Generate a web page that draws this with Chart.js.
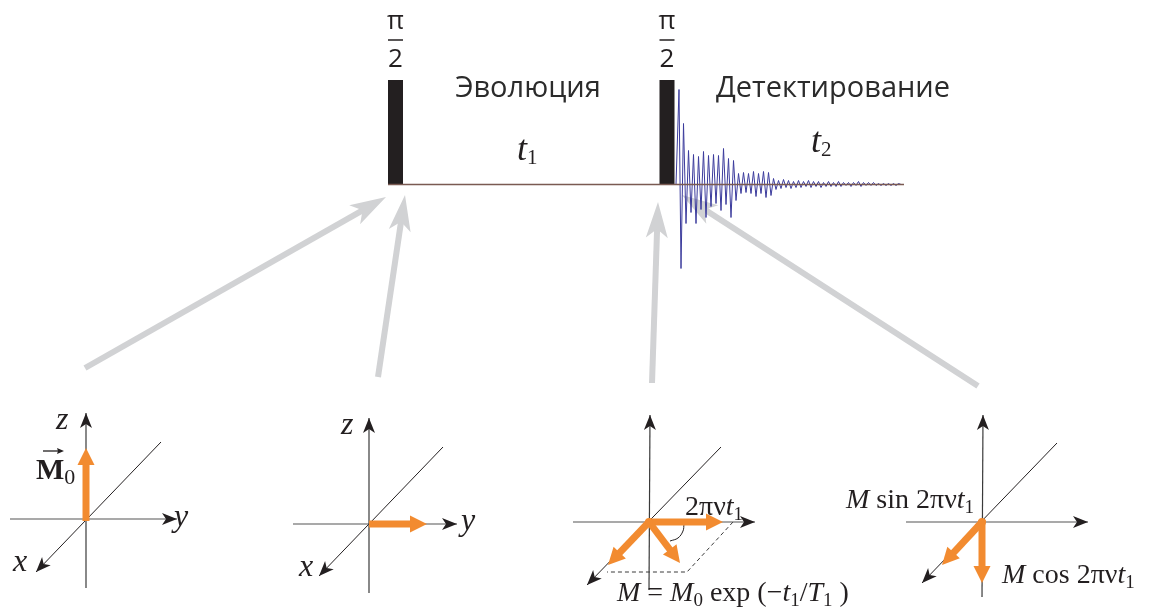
<!DOCTYPE html>
<html>
<head>
<meta charset="utf-8">
<script src="https://cdn.jsdelivr.net/npm/chart.js@4/dist/chart.umd.min.js"></script>
<style>
  html, body { margin: 0; padding: 0; background: #fff; }
  #wrap { width: 1152px; height: 610px; position: relative; }
</style>
</head>
<body>
<div id="wrap"><canvas id="c"></canvas></div>
<script>
// ---- pulse sequence: two π/2 pulses, evolution t1, FID recorded during t2 ----
const baselineY = 184.5;
const baselineSpan = [388, 904];
const pulseX = [395.5, 667];
const pulseTop = 80;
const pulseBottom = 185;

// FID extremes (time position, signal above the baseline)
const fidTime = [
  676, 679, 681, 683.5, 686, 688.5, 691, 693.5, 696, 698.5,
  701, 703.5, 706, 708.5, 711, 713.5, 716, 718.5, 721, 723.5,
  726, 728.5, 731, 733.5, 736, 738.5, 741, 743.5, 746, 748.5,
  751, 753.5, 756, 758.5, 761, 763.5, 766, 768.5, 771, 773.5,
  776, 778.5, 781, 783.5, 786, 788.5, 791, 793.5, 796, 798.5,
  801, 803.5, 806, 808.5, 811, 813.5, 816, 818.5, 821, 823.5,
  826, 828.5, 831, 833.5, 836, 838.5, 841, 843.5, 846, 848.5,
  851, 853.5, 856, 858.5, 861, 863.5, 866, 868.5, 871, 873.5,
  876, 878.5, 881, 883.5, 886, 888.5, 891, 893.5, 896, 898.5,
  901, 904
];
const fidSignal = [
  0, 95, -84, 61, -39, 34, -28, 30, -39, 28,
  -25, 33, -33, 29, -22, 30, -19, 29, -26, 36,
  -20, 26, -33, 24, -16, 11, -9, 12, -8, 11,
  -9, 13, -12, 11, -9, 13, -13, 12, -11, 6,
  -5, 4, -4, 5, -3, 4, -4, 3, -3, 4,
  -3, 3, -2, 4, -3, 3, -2, 3, -3, 2,
  -2, 3, -2, 2, -2, 3, -2, 2, -1, 2,
  -2, 2, -1, 3, -2, 2, -1, 2, -1, 2,
  -1, 1, -1, 1, -1, 1, -1, 1, -1, 1,
  0, 0
];

// grey pointers from each vector frame up to its moment in the sequence
const pointerFrom = [[85, 368], [378, 377], [652, 383], [978, 386]];
const pointerTo   = [[386, 197], [405, 195], [658, 202], [682, 195]];

// the four coordinate frames
const frameOrigin = [[86, 519], [369, 524], [649, 522], [982, 522]];
const zTip    = [[86, 413], [369, 418], [650, 415], [983, 415]];
const zEnd    = [[86, 588], [369, 593], [649, 590], [982, 597]];
const yStart  = [[10, 519], [293, 524], [573, 522], [906, 522]];
const yTip    = [[177, 519], [457, 524], [755, 522], [1088, 522]];
const diagEnd = [[161, 442], [443, 447], [721, 447], [1057, 443]];
const xTip    = [[36, 572], [319, 576], [587, 585], [922, 583]];

// magnetisation vectors
const vecFrom = [[86, 521], [369, 524], [649, 522], [649, 522], [649, 522], [982, 520], [982, 522]];
const vecTo   = [[86, 448], [427, 524], [723, 522], [608, 565], [680, 563], [982, 583], [942, 565]];
const jointDots = [[649, 522], [982, 522]];

// projection lines and angle mark in the third frame
const projDash  = [[733, 522], [687, 572], [607, 572]];
const angleMark = [[684, 524], [683, 531], [678, 538], [670, 541]];

// small arrow over the bold M
const overArrow = [[43, 451], [64, 451]];

// text labels: parts as [text, style], anchor at the baseline
const labelParts = [
  [['Эволюция', 'sans']],
  [['Детектирование', 'sans']],
  [['t', 'itBig'], ['1', 'subBig']],
  [['t', 'itBig'], ['2', 'subBig']],
  [['z', 'ax']], [['y', 'ax']], [['x', 'ax']],
  [['M', 'bf'], ['0', 'subM']],
  [['z', 'ax']], [['y', 'ax']], [['x', 'ax']],
  [['2πν', 'rm'], ['t', 'it'], ['1', 'sub']],
  [['M', 'it'], [' = ', 'rm'], ['M', 'it'], ['0', 'sub'], [' exp (', 'rm'], ['−', 'rm'],
   ['t', 'it'], ['1', 'sub'], ['/', 'rm'], ['T', 'it'], ['1', 'sub'], [' )', 'rm']],
  [['M', 'it'], [' sin 2πν', 'rm'], ['t', 'it'], ['1', 'sub']],
  [['M', 'it'], [' cos 2πν', 'rm'], ['t', 'it'], ['1', 'sub']]
];
const labelAnchor = [
  [528, 97], [833, 97], [517, 160], [811, 152],
  [56, 429], [174, 526], [13, 571],
  [36, 479],
  [341, 434], [461, 530], [299, 576],
  [685, 515],
  [617, 601],
  [846, 508],
  [1002, 583]
];
const labelAlign = [
  'center', 'center', 'left', 'left',
  'left', 'left', 'left', 'left',
  'left', 'left', 'left', 'left', 'left', 'left', 'left'
];

// π/2 pulse labels
const fracCenter = [395.5, 667];
const fracHalfWidth = 7.5;

const FONTS = {
  sans: '29px "Open Sans"',
  frac: '26px "Open Sans"',
  ax: 'italic 32px "Liberation Serif"',
  it: 'italic 28px "Liberation Serif"',
  itBig: 'italic 36px "Liberation Serif"',
  rm: '28px "Liberation Serif"',
  bf: 'bold 30px "Liberation Serif"',
  sub: '19px "Liberation Serif"',
  subM: '22px "Liberation Serif"',
  subBig: '21px "Liberation Serif"'
};
const SUB_DROP = { sub: 5, subM: 5, subBig: 4 };

const INK = '#231f20';
const ORANGE = '#f28b30';
const GREY = '#d1d2d4';

const pt = p => ({ x: p[0], y: p[1] });
const seg = (a, b) => [pt(a), pt(b)];

function lineSet(data, color, width, extra) {
  return Object.assign({
    data, showLine: true, borderColor: color, borderWidth: width,
    pointRadius: 0, pointHoverRadius: 0, fill: false, tension: 0,
    borderCapStyle: 'butt'
  }, extra || {});
}

const datasets = [];
datasets.push(lineSet(seg([baselineSpan[0], baselineY], [baselineSpan[1], baselineY]), '#7a5a52', 1.5));
pulseX.forEach(px => datasets.push(lineSet(seg([px, pulseTop], [px, pulseBottom]), INK, 15)));
datasets.push(lineSet(fidTime.map((t, i) => ({ x: t, y: baselineY - fidSignal[i] })), '#3b3b9c', 1));
frameOrigin.forEach((o, i) => {
  datasets.push(lineSet(seg(zEnd[i], zTip[i]), '#3a3a3a', 1.2));
  datasets.push(lineSet(seg(yStart[i], yTip[i]), '#555555', 1.2));
  datasets.push(lineSet(seg(diagEnd[i], xTip[i]), INK, 1));
});
datasets.push(lineSet(projDash.map(pt), '#3a3a3a', 1, { borderDash: [4, 3] }));
datasets.push(lineSet(angleMark.map(pt), INK, 1, { tension: 0.4 }));

function arrow(ctx, a, b, o) {
  const dx = b.x - a.x, dy = b.y - a.y, L = Math.hypot(dx, dy);
  const ux = dx / L, uy = dy / L, nx = -uy, ny = ux;
  const back = o.len - o.notch;
  if (o.shaft) {
    ctx.beginPath();
    ctx.moveTo(a.x, a.y);
    ctx.lineTo(b.x - ux * (back - 1), b.y - uy * (back - 1));
    ctx.strokeStyle = o.color; ctx.lineWidth = o.shaft; ctx.lineCap = 'butt';
    ctx.stroke();
  }
  const bx = b.x - ux * o.len, by = b.y - uy * o.len;
  ctx.beginPath();
  ctx.moveTo(b.x, b.y);
  ctx.lineTo(bx + nx * o.half, by + ny * o.half);
  ctx.lineTo(b.x - ux * back, b.y - uy * back);
  ctx.lineTo(bx - nx * o.half, by - ny * o.half);
  ctx.closePath();
  ctx.fillStyle = o.color; ctx.fill();
}

function rich(ctx, parts, x, y, align) {
  let w = 0;
  parts.forEach(p => { ctx.font = FONTS[p[1]]; w += ctx.measureText(p[0]).width; });
  let cx = align === 'center' ? x - w / 2 : x;
  parts.forEach(p => {
    ctx.font = FONTS[p[1]];
    ctx.fillText(p[0], cx, y + (SUB_DROP[p[1]] || 0));
    cx += ctx.measureText(p[0]).width;
  });
}

const diagram = {
  id: 'diagram',
  beforeDatasetsDraw(chart) {
    const { ctx, scales: { x, y } } = chart;
    const P = p => ({ x: x.getPixelForValue(p[0]), y: y.getPixelForValue(p[1]) });
    ctx.save();
    pointerFrom.forEach((f, i) =>
      arrow(ctx, P(f), P(pointerTo[i]), { len: 36, half: 11, notch: 9, shaft: 6, color: GREY }));
    ctx.restore();
  },
  afterDatasetsDraw(chart) {
    const { ctx, scales: { x, y } } = chart;
    const P = p => ({ x: x.getPixelForValue(p[0]), y: y.getPixelForValue(p[1]) });
    ctx.save();
    // axis arrowheads
    const black = { len: 15, half: 6, notch: 4, color: INK };
    frameOrigin.forEach((o, i) => {
      arrow(ctx, P(zEnd[i]), P(zTip[i]), black);
      arrow(ctx, P(yStart[i]), P(yTip[i]), black);
      arrow(ctx, P(diagEnd[i]), P(xTip[i]), black);
    });
    // magnetisation vectors
    vecFrom.forEach((f, i) =>
      arrow(ctx, P(f), P(vecTo[i]), { len: 17, half: 8.5, notch: 0, shaft: 7, color: ORANGE }));
    jointDots.forEach(d => {
      const c = P(d);
      ctx.beginPath(); ctx.arc(c.x, c.y, 4, 0, Math.PI * 2);
      ctx.fillStyle = ORANGE; ctx.fill();
    });
    // vector sign over M
    arrow(ctx, P(overArrow[0]), P(overArrow[1]), { len: 7, half: 3, notch: 1, shaft: 1.3, color: INK });
    // π/2 labels
    ctx.fillStyle = INK;
    ctx.textBaseline = 'alphabetic';
    ctx.textAlign = 'left';
    fracCenter.forEach(c => {
      const top = P([c, 29]), bot = P([c, 67]);
      rich(ctx, [['π', 'frac']], top.x, top.y, 'center');
      rich(ctx, [['2', 'frac']], bot.x, bot.y, 'center');
      const l = P([c - fracHalfWidth, 40]), r = P([c + fracHalfWidth, 40]);
      ctx.beginPath(); ctx.moveTo(l.x, l.y); ctx.lineTo(r.x, r.y);
      ctx.strokeStyle = INK; ctx.lineWidth = 1.5; ctx.stroke();
    });
    // labels
    labelParts.forEach((parts, i) => {
      const a = P(labelAnchor[i]);
      ctx.fillStyle = i < 2 ? '#2b2b2b' : INK;
      rich(ctx, parts, a.x, a.y, labelAlign[i]);
    });
    ctx.restore();
  }
};

new Chart(document.getElementById('c'), {
  type: 'scatter',
  data: { datasets },
  options: {
    responsive: true,
    maintainAspectRatio: false,
    animation: false,
    events: [],
    layout: { padding: 0 },
    plugins: { legend: { display: false }, tooltip: { enabled: false } },
    scales: {
      x: { type: 'linear', min: 0, max: 1152, display: false },
      y: { type: 'linear', min: 0, max: 610, reverse: true, display: false }
    }
  },
  plugins: [diagram]
});
</script>
</body>
</html>
